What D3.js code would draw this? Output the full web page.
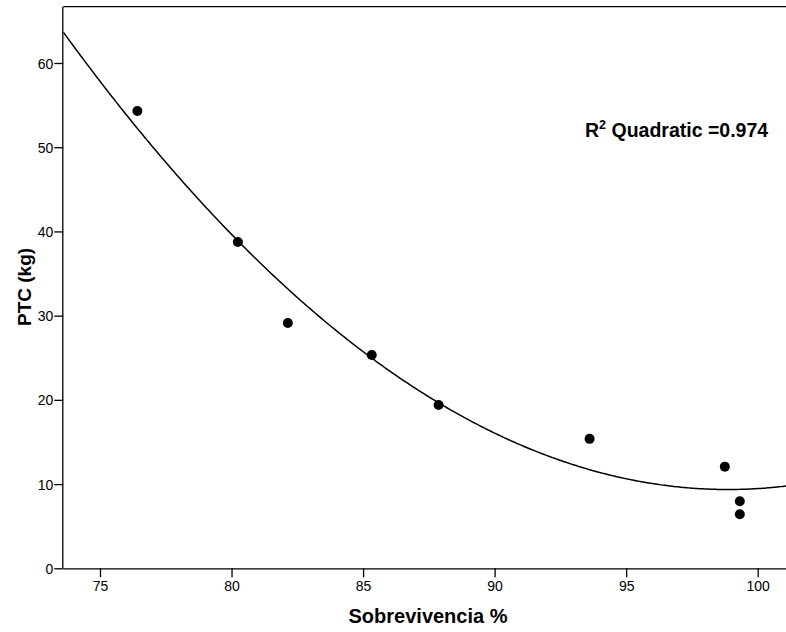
<!DOCTYPE html>
<html><head><meta charset="utf-8">
<script src="https://cdn.jsdelivr.net/npm/d3@7/dist/d3.min.js"></script>
<style>body{margin:0;background:#fff}svg{display:block}</style>
</head><body>
<svg id="c" width="786" height="632"></svg>
<script>
const survival = [76.42, 80.24, 82.14, 85.33, 87.87, 93.61, 98.75, 99.32, 99.32];
const ptc      = [54.3, 38.75, 29.13, 25.33, 19.4, 15.37, 12.07, 7.96, 6.41];
const xTicks = [75, 80, 85, 90, 95, 100];
const yTicks = [0, 10, 20, 30, 40, 50, 60];
const r2Label = "0.974";

const svg = d3.select("#c");
const L = 63.3, R = 786, T = 6.7, B = 568.3;
const x = d3.scaleLinear().domain([75, 100]).range([100, 757.7]);
const y = d3.scaleLinear().domain([0, 60]).range([B, 63]);
const xmin = x.invert(L), xmax = x.invert(R + 2);

// least-squares quadratic fit
function quadFit(xs, ys) {
  const n = xs.length;
  let S = [0,0,0,0,0], Ty = [0,0,0];
  for (let i = 0; i < n; i++) {
    let p = 1;
    for (let k = 0; k < 5; k++) { S[k] += p; p *= xs[i]; }
    Ty[0] += ys[i]; Ty[1] += ys[i]*xs[i]; Ty[2] += ys[i]*xs[i]*xs[i];
  }
  const M = [[S[0],S[1],S[2],Ty[0]],[S[1],S[2],S[3],Ty[1]],[S[2],S[3],S[4],Ty[2]]];
  for (let i = 0; i < 3; i++) {
    for (let j = i+1; j < 3; j++) {
      const f = M[j][i]/M[i][i];
      for (let k = i; k < 4; k++) M[j][k] -= f*M[i][k];
    }
  }
  const c = [0,0,0];
  for (let i = 2; i >= 0; i--) {
    let s = M[i][3];
    for (let k = i+1; k < 3; k++) s -= M[i][k]*c[k];
    c[i] = s/M[i][i];
  }
  return c;
}
const c = quadFit(survival, ptc);
const curve = d3.range(0, 401).map(i => {
  const xv = xmin + (xmax - xmin) * i / 400;
  return [xv, c[0] + c[1]*xv + c[2]*xv*xv];
});

svg.append("defs").append("clipPath").attr("id","clip")
  .append("rect").attr("x", L).attr("y", T).attr("width", R - L + 5).attr("height", B - T);

// frame
svg.append("line").attr("x1", L).attr("x2", 786).attr("y1", T).attr("y2", T)
  .attr("stroke", "#000").attr("stroke-width", 1.3);

// axes
const xAxis = svg.append("g").attr("transform", `translate(0,${B})`)
  .call(d3.axisBottom(x).tickValues(xTicks).tickSize(9).tickPadding(4).tickFormat(d3.format("d")));
xAxis.select(".domain").attr("d", `M${L},0.5H${R+2}`);
const yAxis = svg.append("g").attr("transform", `translate(${L},0)`)
  .call(d3.axisLeft(y).tickValues(yTicks).tickSize(9).tickPadding(1).tickFormat(d3.format("d")));
yAxis.select(".domain").attr("d", `M-0.5,${B}V${T}`);
[xAxis, yAxis].forEach(g => {
  g.selectAll("path,line").attr("stroke", "#000").attr("stroke-width", 1.3);
  g.selectAll("text").attr("fill", "#000").style("font-family", "'Liberation Sans', Arial, sans-serif").style("font-size", "14px");
});
yAxis.selectAll("text").attr("dy", "0.36em");

// curve
svg.append("path").datum(curve).attr("clip-path", "url(#clip)")
  .attr("fill", "none").attr("stroke", "#000").attr("stroke-width", 1.5)
  .attr("d", d3.line().x(d => x(d[0])).y(d => y(d[1])));

// points
svg.append("g").selectAll("circle").data(survival.map((s, i) => [s, ptc[i]])).join("circle")
  .attr("cx", d => x(d[0])).attr("cy", d => y(d[1])).attr("r", 5).attr("fill", "#000");

// labels
const font = "'Liberation Sans', Arial, sans-serif";
svg.append("text").attr("x", 428).attr("y", 623).attr("text-anchor", "middle")
  .style("font-family", font).style("font-size", "20px").style("font-weight", "bold")
  .text("Sobrevivencia %");
svg.append("text").attr("transform", "translate(31,287) rotate(-90)").attr("text-anchor", "middle")
  .style("font-family", font).style("font-size", "19px").style("font-weight", "bold")
  .text("PTC (kg)");
const t = svg.append("text").attr("x", 585).attr("y", 137)
  .style("font-family", font).style("font-size", "19.5px").style("font-weight", "bold");
t.append("tspan").text("R");
t.append("tspan").attr("dy", -8).style("font-size", "12.5px").text("2");
t.append("tspan").attr("dy", 8).text(" Quadratic =" + r2Label);
</script>
</body></html>
